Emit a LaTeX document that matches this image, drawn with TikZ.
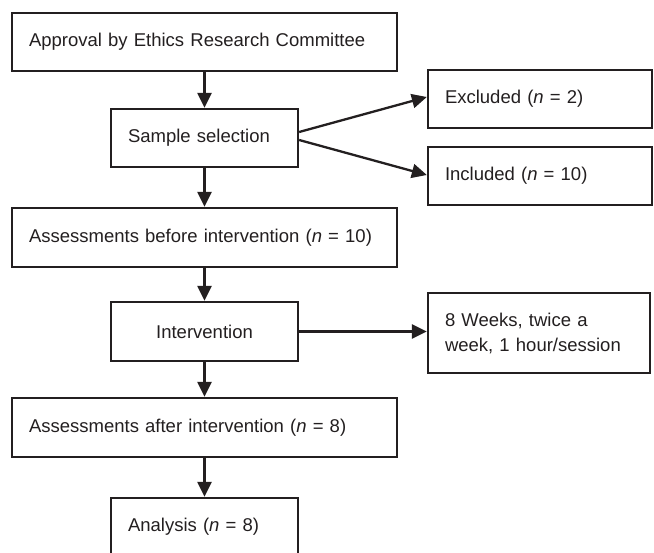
\documentclass[tikz,border=0pt]{standalone}
\usepackage{fontspec}
\setmainfont{Liberation Sans}
\usetikzlibrary{arrows.meta,calc}
\definecolor{ink}{RGB}{35,31,32}
\begin{document}
\begin{tikzpicture}[x=1pt,y=-1pt,
  box/.style={draw=ink, line width=2.3pt, inner xsep=17pt, inner ysep=0pt,
    minimum height=58pt, align=left, text=ink,
    font=\fontsize{18.5}{25}\selectfont},
  arr/.style={draw=ink, line width=2.3pt, -{Triangle[length=15pt,width=14pt]}}]
\useasboundingbox (0,0) rectangle (654,553);
\clip (0,0) rectangle (654,553);
\fill[white] (0,0) rectangle (654,553);
\node[box, text width=351pt] (b1) at (204.5,42) {Approval by Ethics Research Committee};
\node[box, text width=153pt] (b2) at (204.5,138) {Sample selection};
\node[box, text width=190pt] (exc) at (540,99) {Excluded (\textit{n} = 2)};
\node[box, text width=190pt] (inc) at (540,176) {Included (\textit{n} = 10)};
\node[box, text width=351pt, minimum height=59pt] (b3) at (204.5,237.5) {Assessments before intervention (\textit{n} = 10)};
\node[box, text width=153pt, minimum height=59pt, align=center] (b4) at (204.5,331.5) {Intervention};
\node[box, text width=188pt, minimum height=80pt] (wk) at (539,333) {8 Weeks, twice a\\week, 1 hour/session};
\node[box, text width=351pt, minimum height=59pt] (b5) at (204.5,427.5) {Assessments after intervention (\textit{n} = 8)};
\node[box, text width=153pt] (b6) at (204.5,527) {Analysis (\textit{n} = 8)};
\draw[arr] (b1) -- (b2);
\draw[arr] ([yshift=6pt]b2.east) -- ([yshift=2pt]exc.west);
\draw[arr] ([yshift=-2pt]b2.east) -- ([yshift=1pt]inc.west);
\draw[arr] (b2) -- (b3);
\draw[arr] (b3) -- (b4);
\draw[arr] (b4.east) -- (b4.east -| wk.west);
\draw[arr] (b4) -- (b5);
\draw[arr] (b5) -- (b6);
\end{tikzpicture}
\end{document}
